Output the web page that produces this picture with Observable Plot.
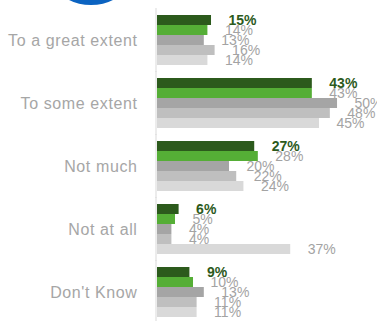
<!DOCTYPE html>
<html>
<head>
<meta charset="utf-8">
<script src="https://cdn.jsdelivr.net/npm/d3@7"></script>
<script src="https://cdn.jsdelivr.net/npm/@observablehq/plot@0.6"></script>
<style>
  html, body { margin: 0; padding: 0; background: #fff; }
  #wrap { position: relative; width: 377px; height: 321px; overflow: hidden; }
  #logo { position: absolute; left: 0; top: 0; }
  #chart { position: absolute; left: 0; top: 0; }
  #chart svg g[aria-label^="fy-axis"] text { letter-spacing: 0.6px; }
</style>
</head>
<body>
<div id="wrap">
  <div id="chart"></div>
  <svg id="logo" width="377" height="12"><ellipse cx="91" cy="-12" rx="31" ry="17" fill="#0b63c1"/></svg>
</div>
<script>
const categories = ["To a great extent", "To some extent", "Not much", "Not at all", "Don't Know"];
const seriesNames = ["Series 1", "Series 2", "Series 3", "Series 4", "Series 5"];
const series1 = [15, 43, 27, 6, 9];
const series2 = [14, 43, 28, 5, 10];
const series3 = [13, 50, 20, 4, 13];
const series4 = [16, 48, 22, 4, 11];
const series5 = [14, 45, 24, 37, 11];
const seriesColors = ["#2c5a1c", "#55ae36", "#a5a5a5", "#bfbfbf", "#d9d9d9"];

const allSeries = [series1, series2, series3, series4, series5];
const rows = categories.flatMap((c, i) =>
  seriesNames.map((s, j) => ({category: c, series: s, value: allSeries[j][i]}))
);
const firstRows = rows.filter(d => d.series === seriesNames[0]);
const otherRows = rows.filter(d => d.series !== seriesNames[0]);

const labelOpts = {
  x: "value", y: "series", fy: "category",
  text: d => d.value + "%",
  dx: 17, dy: 0.5,
  textAnchor: "start",
  fontSize: 14
};

const chart = Plot.plot({
  width: 377,
  height: 321,
  marginLeft: 157,
  marginRight: 0,
  marginTop: 13,
  marginBottom: 2,
  style: {color: "#a6a6a6", fontSize: "16px", fontFamily: "'Liberation Sans', Arial, sans-serif", background: "transparent"},
  x: {domain: [0, 61.1], axis: null},
  y: {domain: seriesNames, axis: null, paddingInner: 0.05, paddingOuter: 0},
  fy: {domain: categories, paddingInner: 9 / 63, paddingOuter: 0, label: null, tickSize: 0, tickPadding: 20},
  color: {domain: seriesNames, range: seriesColors},
  marks: [
    Plot.barX(rows, {x: "value", y: "series", fy: "category", fill: "series"}),
    Plot.ruleX([0], {stroke: "#d9d9d9", strokeWidth: 1, dx: -1.5, insetTop: -5, insetBottom: -5}),
    Plot.text(otherRows, {...labelOpts, fill: "#a3a3a3"}),
    Plot.text(firstRows, {...labelOpts, fill: "#2c5a1c", fontWeight: "bold"})
  ]
});
document.getElementById("chart").appendChild(chart);
</script>
</body>
</html>
